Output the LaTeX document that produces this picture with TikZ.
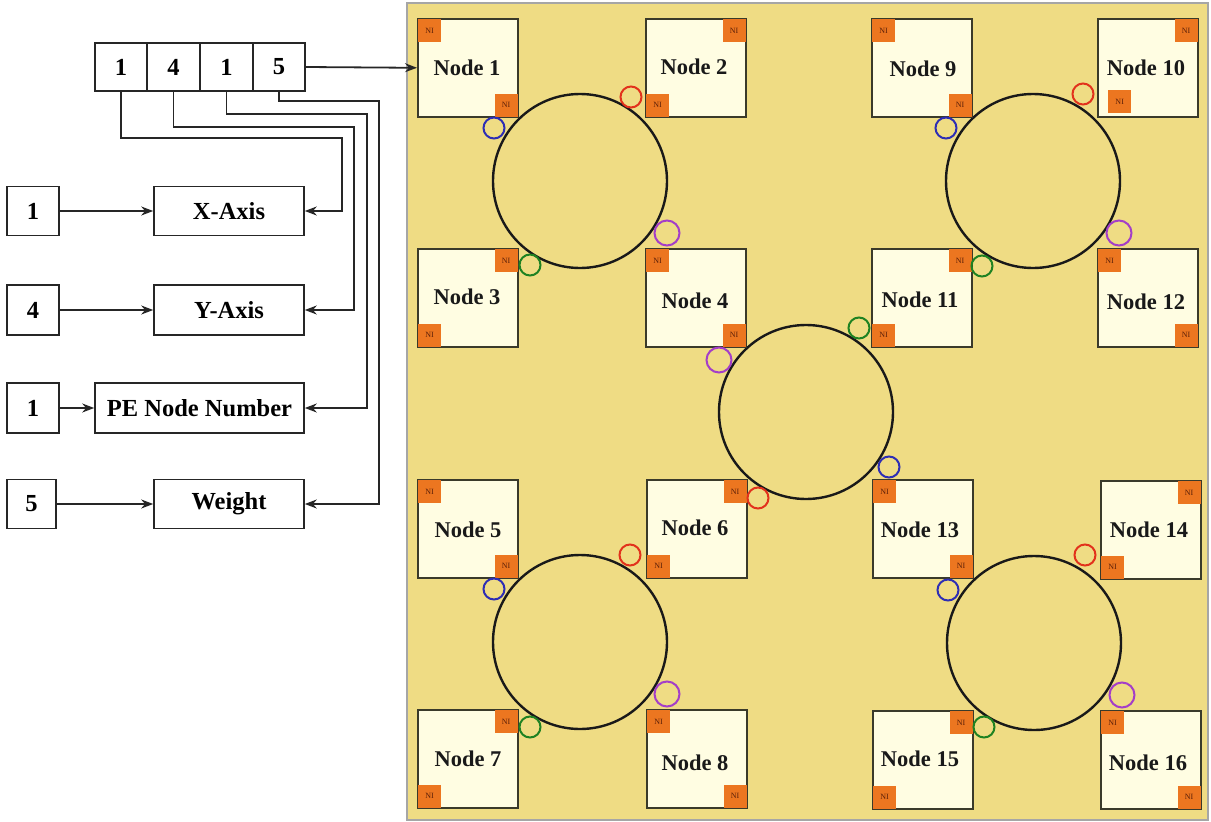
\documentclass[tikz,border=0pt]{standalone}
\usepackage{fontspec}
\setmainfont{Liberation Serif}
\usetikzlibrary{arrows.meta}
\definecolor{panel}{HTML}{EFDC84}
\definecolor{cream}{HTML}{FFFDE2}
\definecolor{niorange}{HTML}{EC7620}
\definecolor{nitext}{HTML}{5A1E08}
\definecolor{pblue}{HTML}{2E2EB4}
\definecolor{pred}{HTML}{E2321C}
\definecolor{ppurple}{HTML}{A43EC8}
\definecolor{pgreen}{HTML}{1F8222}
\definecolor{boxline}{HTML}{3A3A2A}
\tikzset{
  nodebox/.style={draw=boxline, fill=cream, line width=1.6pt, minimum width=100pt, minimum height=98pt, inner sep=0pt, anchor=north west},
  nlabel/.style={font=\bfseries\fontsize{22.5}{24}\selectfont, inner sep=0pt, text=black!90},
  ni/.style={fill=niorange, minimum width=23pt, minimum height=23pt, inner sep=0pt, font=\fontsize{8}{8}\selectfont, text=nitext},
  ring/.style={draw=black!90, line width=2.4pt, circle, minimum size=174pt, inner sep=0pt},
  port/.style={circle, line width=2pt, minimum size=21pt, inner sep=0pt},
  bigport/.style={circle, line width=2pt, minimum size=25pt, inner sep=0pt},
  lbox/.style={draw=black!85, line width=1.6pt, inner sep=0pt, font=\bfseries\fontsize{24.5}{26}\selectfont},
  conn/.style={draw=black!85, line width=1.8pt},
  arr/.style={conn, -{Stealth[length=12pt,width=9pt]}}
}
\begin{document}
\begin{tikzpicture}[x=1pt,y=-1pt]
\useasboundingbox (0,0) rectangle (1211,822);
% panel
\fill[panel, draw=black!35, line width=1.2pt] (407,3) rectangle (1208,820);

% rings
\node[ring] (ringA) at (580,181) {};
\node[ring] (ringB) at (1033,181) {};
\node[ring] (ringC) at (806,412) {};
\node[ring] (ringD) at (580,642) {};
\node[ring] (ringE) at (1034,643) {};

% node boxes
\node[nodebox] (n1) at (417,18) {};
\node[nodebox] (n2) at (645,18) {};
\node[nodebox] (n3) at (417,248) {};
\node[nodebox] (n4) at (645,248) {};
\node[nodebox] (n9) at (871,18) {};
\node[nodebox] (n10) at (1097,18) {};
\node[nodebox] (n11) at (871,248) {};
\node[nodebox] (n12) at (1097,248) {};
\node[nodebox] (n5) at (417,479) {};
\node[nodebox] (n6) at (646,479) {};
\node[nodebox] (n7) at (417,709) {};
\node[nodebox] (n8) at (646,709) {};
\node[nodebox] (n13) at (872,479) {};
\node[nodebox] (n14) at (1100,480) {};
\node[nodebox] (n15) at (872,710) {};
\node[nodebox] (n16) at (1100,710) {};

% labels
\node[nlabel] (t1) at (467,68) {Node 1};
\node[nlabel] (t2) at (694,67) {Node 2};
\node[nlabel] (t3) at (467,297) {Node 3};
\node[nlabel] (t4) at (695,301) {Node 4};
\node[nlabel] (t9) at (923,69) {Node 9};
\node[nlabel] (t10) at (1146,68) {Node 10};
\node[nlabel] (t11) at (920,300) {Node 11};
\node[nlabel] (t12) at (1146,302) {Node 12};
\node[nlabel] (t5) at (468,530) {Node 5};
\node[nlabel] (t6) at (695,528) {Node 6};
\node[nlabel] (t7) at (468,759) {Node 7};
\node[nlabel] (t8) at (695,763) {Node 8};
\node[nlabel] (t13) at (920,530) {Node 13};
\node[nlabel] (t14) at (1149,530) {Node 14};
\node[nlabel] (t15) at (920,759) {Node 15};
\node[nlabel] (t16) at (1148,763) {Node 16};

% NI boxes
\node[ni, anchor=north west] (ni1a) at ([shift={(0.8,0.8)}]n1.north west) {NI};
\node[ni, anchor=south east] (ni1b) at ([shift={(-0.8,-0.8)}]n1.south east) {NI};
\node[ni, anchor=north east] (ni2a) at ([shift={(-0.8,0.8)}]n2.north east) {NI};
\node[ni, anchor=south west] (ni2b) at ([shift={(0.8,-0.8)}]n2.south west) {NI};
\node[ni, anchor=north east] (ni3a) at ([shift={(-0.8,0.8)}]n3.north east) {NI};
\node[ni, anchor=south west] (ni3b) at ([shift={(0.8,-0.8)}]n3.south west) {NI};
\node[ni, anchor=north west] (ni4a) at ([shift={(0.8,0.8)}]n4.north west) {NI};
\node[ni, anchor=south east] (ni4b) at ([shift={(-0.8,-0.8)}]n4.south east) {NI};
\node[ni, anchor=north west] (ni9a) at ([shift={(0.8,0.8)}]n9.north west) {NI};
\node[ni, anchor=south east] (ni9b) at ([shift={(-0.8,-0.8)}]n9.south east) {NI};
\node[ni, anchor=north east] (ni10a) at ([shift={(-0.8,0.8)}]n10.north east) {NI};
\node[ni, anchor=south west] (ni10b) at ([shift={(11,-4)}]n10.south west) {NI};
\node[ni, anchor=north east] (ni11a) at ([shift={(-0.8,0.8)}]n11.north east) {NI};
\node[ni, anchor=south west] (ni11b) at ([shift={(0.8,-0.8)}]n11.south west) {NI};
\node[ni, anchor=north west] (ni12a) at ([shift={(0.8,0.8)}]n12.north west) {NI};
\node[ni, anchor=south east] (ni12b) at ([shift={(-0.8,-0.8)}]n12.south east) {NI};
\node[ni, anchor=north west] (ni5a) at ([shift={(0.8,0.8)}]n5.north west) {NI};
\node[ni, anchor=south east] (ni5b) at ([shift={(-0.8,-0.8)}]n5.south east) {NI};
\node[ni, anchor=north east] (ni6a) at ([shift={(-0.8,0.8)}]n6.north east) {NI};
\node[ni, anchor=south west] (ni6b) at ([shift={(0.8,-0.8)}]n6.south west) {NI};
\node[ni, anchor=north east] (ni7a) at ([shift={(-0.8,0.8)}]n7.north east) {NI};
\node[ni, anchor=south west] (ni7b) at ([shift={(0.8,-0.8)}]n7.south west) {NI};
\node[ni, anchor=north west] (ni8a) at ([shift={(0.8,0.8)}]n8.north west) {NI};
\node[ni, anchor=south east] (ni8b) at ([shift={(-0.8,-0.8)}]n8.south east) {NI};
\node[ni, anchor=north west] (ni13a) at ([shift={(0.8,0.8)}]n13.north west) {NI};
\node[ni, anchor=south east] (ni13b) at ([shift={(-0.8,-0.8)}]n13.south east) {NI};
\node[ni, anchor=north east] (ni14a) at ([shift={(-0.8,0.8)}]n14.north east) {NI};
\node[ni, anchor=south west] (ni14b) at ([shift={(0.8,-0.8)}]n14.south west) {NI};
\node[ni, anchor=north east] (ni15a) at ([shift={(-0.8,0.8)}]n15.north east) {NI};
\node[ni, anchor=south west] (ni15b) at ([shift={(0.8,-0.8)}]n15.south west) {NI};
\node[ni, anchor=north west] (ni16a) at ([shift={(0.8,0.8)}]n16.north west) {NI};
\node[ni, anchor=south east] (ni16b) at ([shift={(-0.8,-0.8)}]n16.south east) {NI};

% ports
\node[port, draw=pblue] (pAb) at (494,128) {};
\node[port, draw=pred] (pAr) at (631,97) {};
\node[bigport, draw=ppurple] (pAp) at (667,233) {};
\node[port, draw=pgreen] (pAg) at (530,265) {};
\node[port, draw=pblue] (pBb) at (946,128) {};
\node[port, draw=pred] (pBr) at (1083,94) {};
\node[bigport, draw=ppurple] (pBp) at (1119,233) {};
\node[port, draw=pgreen] (pBg) at (982,266) {};
\node[bigport, draw=ppurple] (pCp) at (719,360) {};
\node[port, draw=pgreen] (pCg) at (859,328) {};
\node[port, draw=pblue] (pCb) at (889,467) {};
\node[port, draw=pred] (pCr) at (758,498) {};
\node[port, draw=pblue] (pDb) at (494,589) {};
\node[port, draw=pred] (pDr) at (630,555) {};
\node[bigport, draw=ppurple] (pDp) at (667,694) {};
\node[port, draw=pgreen] (pDg) at (530,727) {};
\node[port, draw=pblue] (pEb) at (948,590) {};
\node[port, draw=pred] (pEr) at (1085,555) {};
\node[bigport, draw=ppurple] (pEp) at (1122,695) {};
\node[port, draw=pgreen] (pEg) at (984,727) {};

% register
\node[lbox, minimum width=52pt, minimum height=48pt] (r1) at (121,67) {1};
\node[lbox, minimum width=53pt, minimum height=48pt] (r2) at (173.5,67) {4};
\node[lbox, minimum width=53pt, minimum height=48pt] (r3) at (226.5,67) {1};
\node[lbox, minimum width=52pt, minimum height=48pt] (r4) at (279,67) {5};

% left boxes
\node[lbox, minimum width=52pt, minimum height=49pt] (v1) at (33,211) {1};
\node[lbox, minimum width=150pt, minimum height=49pt] (xa) at (229,211) {X-Axis};
\node[lbox, minimum width=52pt, minimum height=50pt] (v2) at (33,310) {4};
\node[lbox, minimum width=150pt, minimum height=50pt] (ya) at (229,310) {Y-Axis};
\node[lbox, minimum width=52pt, minimum height=50pt] (v3) at (33,408) {1};
\node[lbox, minimum width=209pt, minimum height=50pt] (pe) at (199.5,408) {PE Node Number};
\node[lbox, minimum width=49pt, minimum height=49pt] (v4) at (31.5,504) {5};
\node[lbox, minimum width=150pt, minimum height=49pt] (wt) at (229,504) {Weight};

% connectors
\draw[arr] (r4.east) -- (n1.west);
\draw[arr] (v1.east) -- (xa.west);
\draw[arr] (v2.east) -- (ya.west);
\draw[arr] (v3.east) -- (pe.west);
\draw[arr] (v4.east) -- (wt.west);
\draw[arr] (r1.south) |- (342,138) |- (xa.east);
\draw[arr] (r2.south) |- (354,127) |- (ya.east);
\draw[arr] (r3.south) |- (367,114) |- (pe.east);
\draw[arr] (r4.south) |- (379,101) |- (wt.east);
\end{tikzpicture}
\end{document}
